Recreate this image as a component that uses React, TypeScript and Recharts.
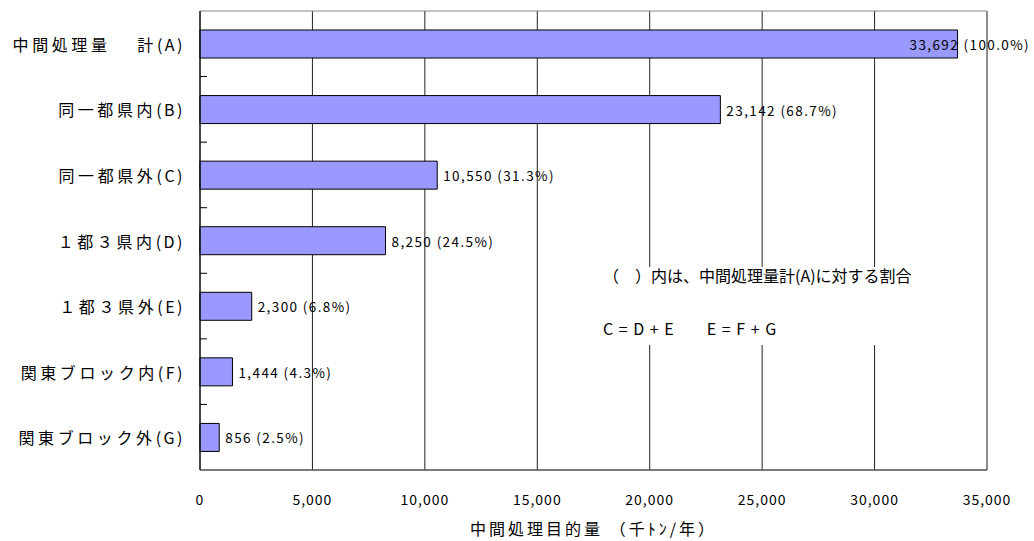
import {BarChart, Bar, XAxis, YAxis, CartesianGrid, LabelList, ReferenceArea, Label} from "recharts";

const categories = ["中間処理量　\u00a0計(A)", "同一都県内(B)", "同一都県外(C)", "１都３県内(D)", "１都３県外(E)", "関東ブロック内(F)", "関東ブロック外(G)"];
const amounts = [33692, 23142, 10550, 8250, 2300, 1444, 856];
const shares = [100.0, 68.7, 31.3, 24.5, 6.8, 4.3, 2.5];
const xTicks = [0, 5000, 10000, 15000, 20000, 25000, 30000, 35000];

const data = categories.map((name, i) => ({name, amount: amounts[i], share: shares[i]}));

const W = 1034;
const H = 541;
const PLOT_LEFT = 200;
const PLOT_TOP = 11;
const PLOT_BOTTOM = 470;
const PLOT_RIGHT = 987;
const FONT = "'Noto Sans CJK JP', 'Noto Sans', sans-serif";
const BAND = (PLOT_BOTTOM - PLOT_TOP) / categories.length;

function CategoryTick(props: any) {
  const {y, payload, index} = props;
  const name: string = payload.value;
  const cut = name.lastIndexOf("(");
  return (
    <g>
      <text x={PLOT_LEFT - 15} y={y} textAnchor="end" dominantBaseline="central" fontSize={16} fill="#000" fontFamily={FONT}>
        <tspan letterSpacing={3.6}>{name.slice(0, cut)}</tspan>
        <tspan letterSpacing={2.5}>{name.slice(cut)}</tspan>
      </text>
      {index > 0 && <line x1={PLOT_LEFT} x2={PLOT_LEFT + 7} y1={y - BAND / 2} y2={y - BAND / 2} stroke="#000" />}
    </g>
  );
}

function ValueLabel(props: any) {
  const {x, y, width, height, index} = props;
  const text = `${amounts[index].toLocaleString("en-US")} (${shares[index].toFixed(1)}%)`;
  const est = text.length * 7.9;
  let tx = x + width + 6;
  if (tx + est > W - 6) tx = W - 6 - est;
  return (
    <text x={tx} y={y + height / 2} dominantBaseline="central" fontSize={13.5} letterSpacing={1.4} fill="#000" fontFamily={FONT}>
      {text}
    </text>
  );
}

export default function App() {
  return (
    <div style={{position: "absolute", left: 0, top: 0, width: W, height: H, background: "#fff", fontFamily: FONT}}>
      <BarChart width={W} height={H} data={data} layout="vertical" margin={{top: PLOT_TOP, right: W - PLOT_RIGHT, bottom: 0, left: 0}} barSize={28}>
        <CartesianGrid vertical horizontal={false} stroke="#222" />
        <ReferenceArea x1={0} x2={35000} fill="none" stroke="#888" ifOverflow="visible" />
        <XAxis type="number" domain={[0, 35000]} ticks={xTicks} tickFormatter={(v: number) => v.toLocaleString("en-US")} height={H - PLOT_BOTTOM} tickLine={false} tickSize={0} tickMargin={25} axisLine={{stroke: "#333"}} tick={{fontSize: 14, fill: "#000", letterSpacing: 1, fontFamily: FONT}}>
          <Label value="中間処理目的量 （千ﾄﾝ/年）" position="insideBottom" offset={6} style={{fontSize: 16, letterSpacing: 3, fill: "#000", fontFamily: FONT}} />
        </XAxis>
        <YAxis type="category" dataKey="name" width={PLOT_LEFT} tickLine={false} axisLine={{stroke: "#000"}} tick={<CategoryTick />} interval={0} />
        <Bar dataKey="amount" fill="#9999FF" stroke="#000" strokeWidth={1} isAnimationActive={false}>
          <LabelList dataKey="amount" content={<ValueLabel />} />
        </Bar>
      </BarChart>
      <div style={{position: "absolute", left: 590, top: 267, width: 345, height: 78, background: "#fff"}}>
        <div style={{position: "absolute", left: 13, top: -3, fontSize: 16, whiteSpace: "pre", color: "#000", lineHeight: "22px"}}>（　）内は、中間処理量計(A)に対する割合</div>
        <div style={{position: "absolute", left: 13, top: 50, fontSize: 16, whiteSpace: "pre", color: "#000", letterSpacing: 1, lineHeight: "22px"}}>{"C = D + E       E = F + G"}</div>
      </div>
    </div>
  );
}
